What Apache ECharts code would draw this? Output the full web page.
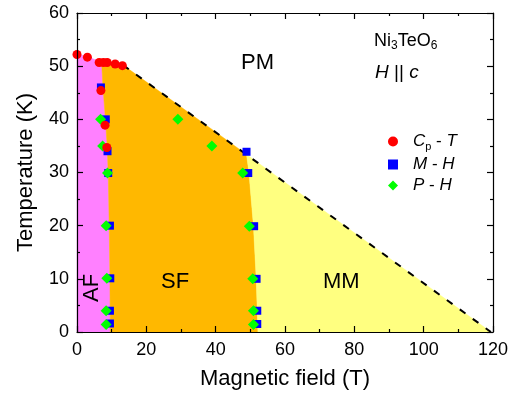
<!DOCTYPE html>
<html>
<head>
<meta charset="utf-8">
<script src="https://cdn.jsdelivr.net/npm/echarts@6/dist/echarts.min.js"></script>
<style>
  html, body { margin: 0; padding: 0; background: #fff; }
  #main { width: 520px; height: 398px; }
</style>
</head>
<body>
<div id="main"></div>
<script>
// data: [field (T), temperature (K)]
var cpT = [[0, 52.2], [3.0, 51.7], [6.4, 50.7], [7.6, 50.7], [8.7, 50.7], [11.0, 50.4], [13.1, 50.1],
  [6.9, 45.4], [8.1, 38.9], [8.6, 34.7]];
var mH = [[6.9, 46.0], [8.3, 40.0], [8.8, 34.0], [9.0, 29.9], [9.5, 20.0], [9.6, 10.1], [9.5, 4.0], [9.5, 1.6],
  [48.9, 33.9], [49.4, 29.9], [51.1, 19.9], [51.8, 10.0], [52.0, 4.0], [52.0, 1.5]];
var pH = [[6.8, 40.0], [7.4, 35.0], [8.8, 29.9], [8.4, 20.0], [8.6, 10.1], [8.4, 4.0], [8.4, 1.4],
  [29.1, 40.0], [38.9, 35.0], [47.8, 29.9], [49.7, 19.9], [50.7, 10.0], [50.9, 4.0], [50.9, 1.4]];

// phase boundaries
var afTop = [[0, 52.3], [3.0, 51.8], [7.1, 50.7]];
var afSf = [[7.1, 50.7], [7.5, 46.0], [8.2, 40.0], [8.7, 35.0], [9.0, 30.0], [9.3, 20.0], [9.5, 10.0], [9.6, 0]];
var sfTop = [[7.1, 50.7], [10.0, 50.6], [13.3, 50.2]];
var pmLine = [[13.3, 50.2], [119.4, 0]];
var sfMm = [[48.9, 33.4], [49.6, 30.0], [50.9, 20.0], [51.7, 10.0], [52.2, 0]];

var seriesNames = ['Cp - T', 'M - H', 'P - H'];
var legendText = {
  'Cp - T': '{i|C}{s|p}{n| - }{i|T}',
  'M - H': '{i|M}{n| - }{i|H}',
  'P - H': '{i|P}{n| - }{i|H}'
};

var FONT = '"Liberation Sans", Arial, sans-serif';

function rev(a) { return a.slice().reverse(); }

var afPoly = [[0, 0]].concat(afTop, afSf);
var sfPoly = afSf.concat([[sfMm[sfMm.length - 1][0], 0]], rev(sfMm), [pmLine[0]], rev(sfTop));
var mmPoly = sfMm.concat([pmLine[1]]);

function region(points, color) {
  return {
    type: 'custom',
    silent: true,
    z: 1,
    data: [[0, 0]],
    renderItem: function (params, api) {
      return {
        type: 'polygon',
        shape: { points: points.map(function (p) { return api.coord(p); }) },
        style: { fill: color, stroke: color, lineWidth: 0.5 }
      };
    }
  };
}

var myChart = echarts.init(document.getElementById('main'));

var axisCommon = {
  min: 0,
  z: 10,
  axisLine: { show: true, onZero: false, lineStyle: { color: '#000', width: 1.2 } },
  axisTick: { show: true, inside: true, length: 6, lineStyle: { color: '#000', width: 1.2 } },
  minorTick: { show: true, splitNumber: 2, length: 3, lineStyle: { color: '#000', width: 1.2 } },
  splitLine: { show: false }
};

var option = {
  backgroundColor: '#fff',
  animation: false,
  grid: { left: 77, right: 27, top: 13, bottom: 66 },
  xAxis: [
    Object.assign({}, axisCommon, {
      type: 'value', position: 'bottom', max: 120, interval: 20,
      name: 'Magnetic field (T)', nameLocation: 'middle', nameGap: 36,
      nameTextStyle: { fontFamily: FONT, fontSize: 22, color: '#000' },
      axisLabel: { fontFamily: FONT, fontSize: 18, color: '#000', margin: 9 }
    }),
    Object.assign({}, axisCommon, {
      type: 'value', position: 'top', max: 120, interval: 20, axisLabel: { show: false }
    })
  ],
  yAxis: [
    Object.assign({}, axisCommon, {
      type: 'value', position: 'left', max: 60, interval: 10,
      name: 'Temperature (K)', nameLocation: 'middle', nameGap: 40,
      nameTextStyle: { fontFamily: FONT, fontSize: 22, color: '#000' },
      axisLabel: { fontFamily: FONT, fontSize: 18, color: '#000', margin: 8 }
    }),
    Object.assign({}, axisCommon, {
      type: 'value', position: 'right', max: 60, interval: 10, axisLabel: { show: false }
    })
  ],
  legend: {
    orient: 'vertical',
    left: 383,
    top: 128,
    itemGap: 4,
    itemWidth: 10,
    itemHeight: 10,
    data: [
      { name: seriesNames[0], icon: 'circle' },
      { name: seriesNames[1], icon: 'rect' },
      { name: seriesNames[2], icon: 'diamond' }
    ],
    formatter: function (name) { return legendText[name]; },
    textStyle: {
      padding: [0, 0, 0, 10],
      rich: {
        i: { fontFamily: FONT, fontSize: 17, fontStyle: 'italic', color: '#000' },
        n: { fontFamily: FONT, fontSize: 17, color: '#000' },
        s: { fontFamily: FONT, fontSize: 11, color: '#000', padding: [10, 0, 0, 0] }
      }
    }
  },
  graphic: [
    { type: 'text', z: 50, left: 241, top: 52, style: { text: 'PM', font: '22px ' + FONT, fill: '#000' } },
    { type: 'text', z: 50, left: 161, top: 271, style: { text: 'SF', font: '22px ' + FONT, fill: '#000' } },
    { type: 'text', z: 50, left: 323, top: 271, style: { text: 'MM', font: '22px ' + FONT, fill: '#000' } },
    { type: 'text', z: 50, x: 81, y: 302, rotation: Math.PI / 2,
      style: { text: 'AF', font: '22px ' + FONT, fill: '#000' } },
    { type: 'text', z: 50, left: 374, top: 32,
      style: {
        text: '{n|Ni}{s|3}{n|TeO}{s|6}',
        rich: {
          n: { fontFamily: FONT, fontSize: 18, fill: '#000' },
          s: { fontFamily: FONT, fontSize: 12, fill: '#000', padding: [10, 0, 0, 0] }
        }
      } },
    { type: 'text', z: 50, left: 375, top: 63,
      style: {
        text: '{i|H}{n| || }{i|c}',
        rich: {
          i: { fontFamily: FONT, fontSize: 19, fontStyle: 'italic', fill: '#000' },
          n: { fontFamily: FONT, fontSize: 19, fill: '#000' }
        }
      } }
  ],
  series: [
    region(afPoly, '#FF80FF'),
    region(sfPoly, '#FFB800'),
    region(mmPoly, '#FFFF80'),
    {
      type: 'line', data: pmLine, symbol: 'none', silent: true, z: 3,
      lineStyle: { color: '#000', width: 2, type: [7, 9] }
    },
    {
      name: seriesNames[1], type: 'scatter', data: mH, symbol: 'rect', symbolSize: 8, z: 4,
      itemStyle: { color: '#0000FF', opacity: 1 }
    },
    {
      name: seriesNames[2], type: 'scatter', data: pH, symbol: 'diamond', symbolSize: 11, z: 5,
      itemStyle: { color: '#00FF00', opacity: 1 }
    },
    {
      name: seriesNames[0], type: 'scatter', data: cpT, symbol: 'circle', symbolSize: 9, z: 6,
      itemStyle: { color: '#FF0000', opacity: 1 }
    }
  ]
};

myChart.setOption(option);
</script>
</body>
</html>
